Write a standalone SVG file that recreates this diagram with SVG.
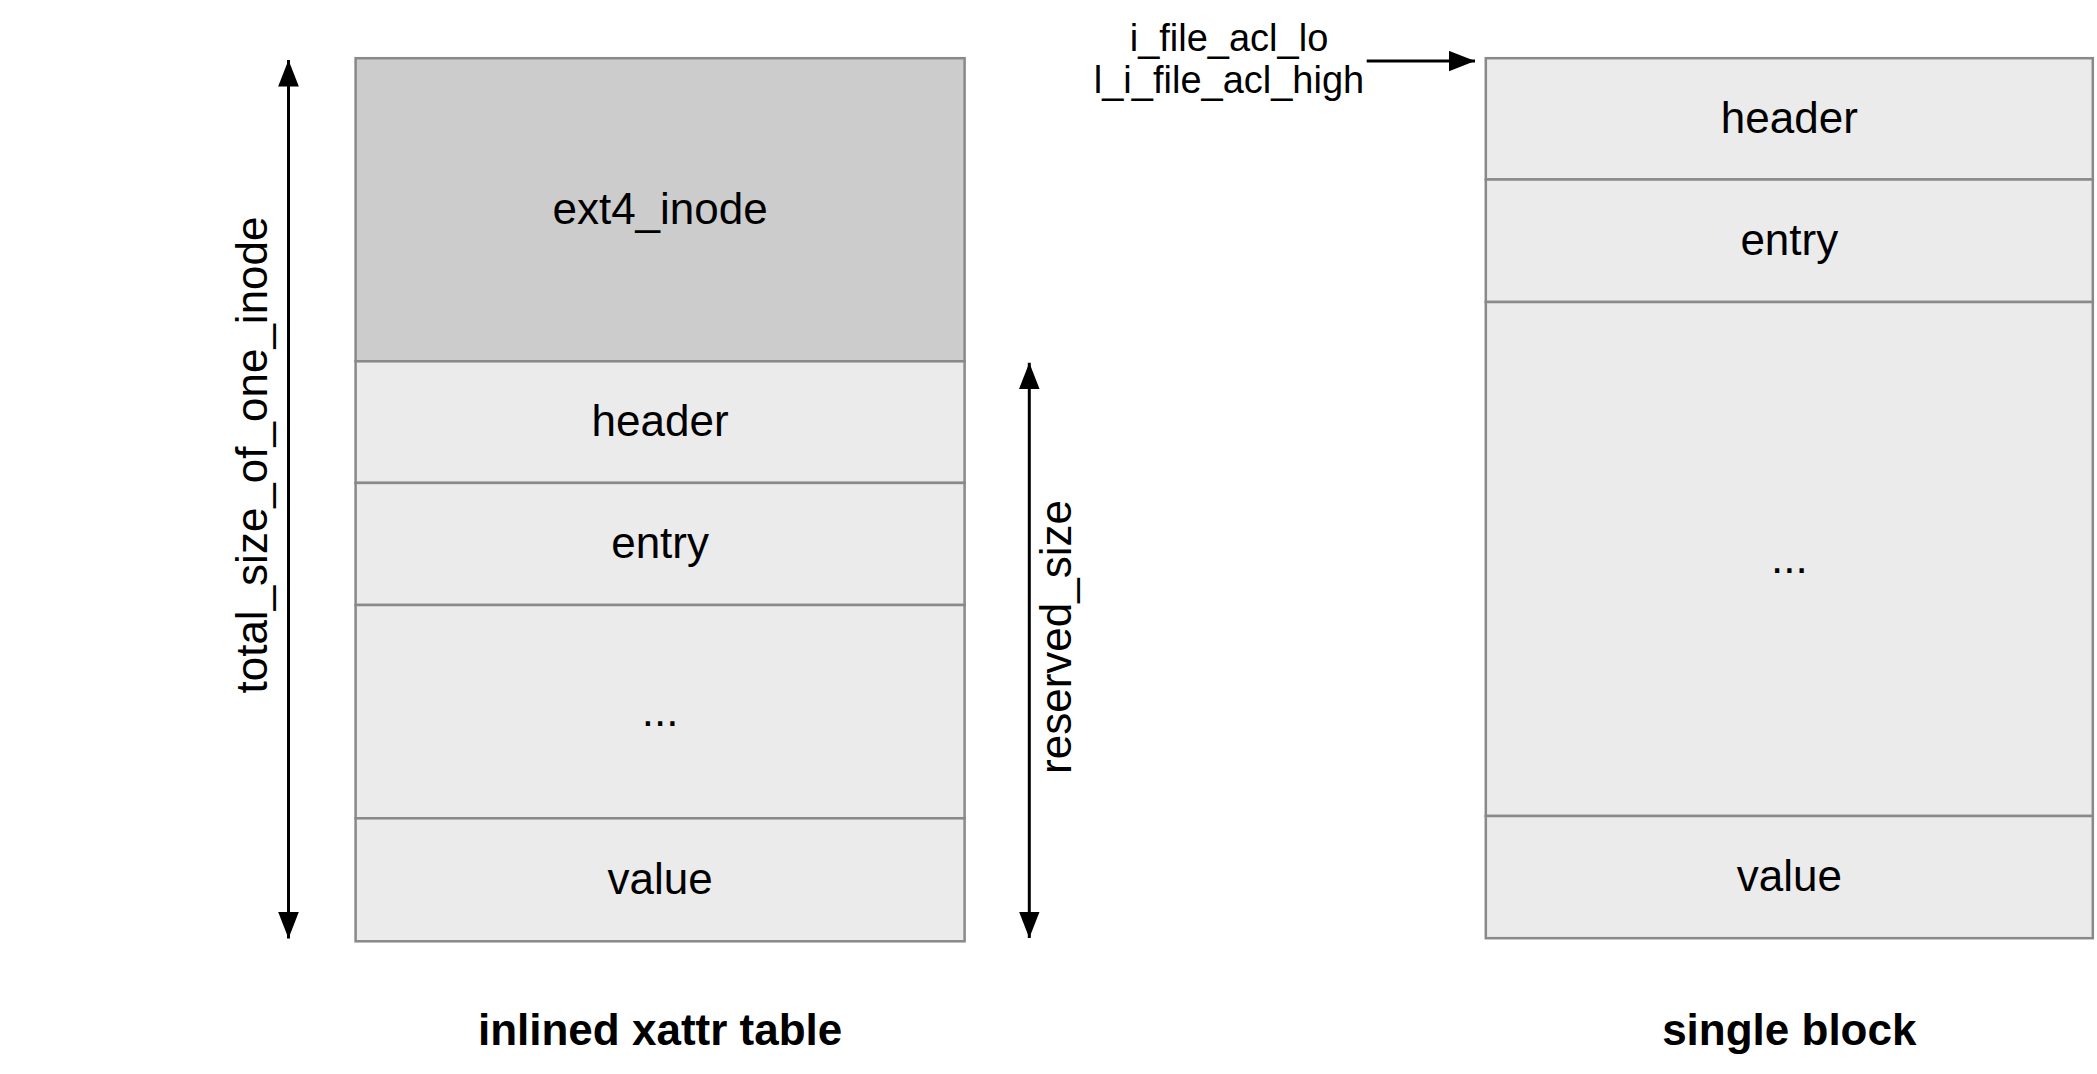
<svg xmlns="http://www.w3.org/2000/svg" width="2097" height="1074" viewBox="0 0 2097 1074">
<style>
.cell{fill:#ebebeb;stroke:#898989;stroke-width:2.5}
.dark{fill:#cccccc}
.t{font-family:"Liberation Sans",Arial,Helvetica,sans-serif;font-size:44px;fill:#000;text-anchor:middle}
.b{font-weight:bold}
.s{font-size:38px}
.arr{stroke:#000;stroke-width:3;fill:none}
</style>
<defs>
<marker id="ah" markerUnits="userSpaceOnUse" markerWidth="27" markerHeight="21" refX="26.5" refY="10.35" orient="auto-start-reverse">
<path d="M0,0 L26.5,10.35 L0,20.7 z" fill="#000"/>
</marker>
</defs>
<rect width="2097" height="1074" fill="#fff"/>
<g id="inlined-table">
<g id="l-inode"><rect class="cell dark" x="355.6" y="58.2" width="609" height="303.1"/><text class="t" x="660.1" y="223.5">ext4_inode</text></g>
<g id="l-header"><rect class="cell" x="355.6" y="361.3" width="609" height="121.6"/><text class="t" x="660.1" y="436">header</text></g>
<g id="l-entry"><rect class="cell" x="355.6" y="482.9" width="609" height="122.1"/><text class="t" x="660.1" y="558">entry</text></g>
<g id="l-more"><rect class="cell" x="355.6" y="605" width="609" height="213.3"/><text class="t" x="660.1" y="725.5">...</text></g>
<g id="l-value"><rect class="cell" x="355.6" y="818.3" width="609" height="123"/><text class="t" x="660.1" y="893.5">value</text></g>
<text class="t b" x="660.1" y="1045">inlined xattr table</text>
</g>
<g id="single-block">
<g id="r-header"><rect class="cell" x="1485.8" y="58.2" width="607" height="121.3"/><text class="t" x="1789.3" y="132.5">header</text></g>
<g id="r-entry"><rect class="cell" x="1485.8" y="179.5" width="607" height="122.5"/><text class="t" x="1789.3" y="254.5">entry</text></g>
<g id="r-more"><rect class="cell" x="1485.8" y="302" width="607" height="514"/><text class="t" x="1789.3" y="573">...</text></g>
<g id="r-value"><rect class="cell" x="1485.8" y="816" width="607" height="122.2"/><text class="t" x="1789.3" y="891">value</text></g>
<text class="t b" x="1789.3" y="1045">single block</text>
</g>
<g id="labels">
<text class="t" transform="translate(267,455) rotate(-90)">total_size_of_one_inode</text>
<text class="t" transform="translate(1071,637) rotate(-90)">reserved_size</text>
<text class="t s" x="1229" y="50.7">i_file_acl_lo</text>
<text class="t s" x="1229" y="93.3">l_i_file_acl_high</text>
</g>
<g id="connectors">
<line class="arr" x1="288.5" y1="60" x2="288.5" y2="938.4" marker-start="url(#ah)" marker-end="url(#ah)"/>
<line class="arr" x1="1029.3" y1="362.7" x2="1029.3" y2="938" marker-start="url(#ah)" marker-end="url(#ah)"/>
<line class="arr" x1="1366.7" y1="61" x2="1475" y2="61" marker-end="url(#ah)"/>
</g>
</svg>
